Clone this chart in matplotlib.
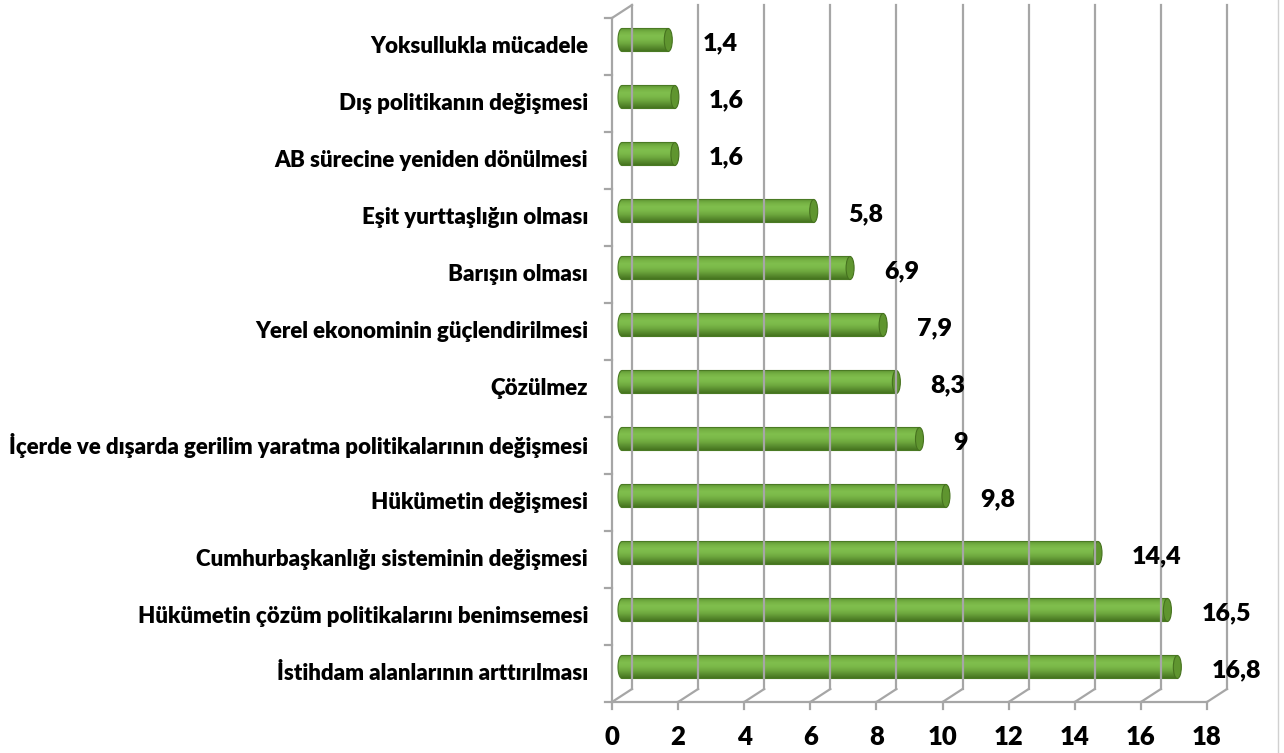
import numpy as np
import matplotlib
matplotlib.use("Agg")
import matplotlib.pyplot as plt
from matplotlib import transforms
from matplotlib.path import Path
from matplotlib.patches import PathPatch, Ellipse
from matplotlib.colors import LinearSegmentedColormap

# veriler (alttan üste)
categories = [
    "İstihdam alanlarının arttırılması",
    "Hükümetin çözüm politikalarını benimsemesi",
    "Cumhurbaşkanlığı sisteminin değişmesi",
    "Hükümetin değişmesi",
    "İçerde ve dışarda gerilim yaratma politikalarının değişmesi",
    "Çözülmez",
    "Yerel ekonominin güçlendirilmesi",
    "Barışın olması",
    "Eşit yurttaşlığın olması",
    "AB sürecine yeniden dönülmesi",
    "Dış politikanın değişmesi",
    "Yoksullukla mücadele",
]
values = [16.8, 16.5, 14.4, 9.8, 9.0, 8.3, 7.9, 6.9, 5.8, 1.6, 1.6, 1.4]
value_labels = ["16,8", "16,5", "14,4", "9,8", "9", "8,3", "7,9", "6,9", "5,8", "1,6", "1,6", "1,4"]
xticks = list(range(0, 19, 2))

W, H = 1284, 753
fig = plt.figure(figsize=(W / 100, H / 100), dpi=100)
ax = fig.add_axes([612 / W, 1 - 702 / H, (1207 - 612) / W, (702 - 18) / H])
ax.set_xlim(0, 18)
ax.set_ylim(-0.5, 11.5)
ax.axis("off")

grid_c = "#a6a6a6"
lw = 1.6
back = transforms.offset_copy(ax.transData, fig, x=20, y=13, units="dots")
mid = transforms.offset_copy(ax.transData, fig, x=10, y=6.5, units="dots")

# 3B çerçeve: arka duvar, zemin, sol duvar
for x in xticks:
    ax.plot([x, x], [-0.5, 11.5], color=grid_c, lw=lw, transform=back, clip_on=False)
    ax.plot([x, x + 20 / 33.05], [-0.5, -0.5 + 13 / 57], color=grid_c, lw=lw, clip_on=False)
    ax.plot([x, x], [-0.5, -0.5 - 7 / 57], color=grid_c, lw=lw, clip_on=False)
ax.plot([0, 18], [-0.5, -0.5], color=grid_c, lw=lw, clip_on=False)
ax.plot([0, 0], [-0.5, 11.5], color=grid_c, lw=lw, clip_on=False)
ax.plot([0, 20 / 33.05], [11.5, 11.5 + 13 / 57], color=grid_c, lw=lw, clip_on=False)
for k in range(13):
    ax.plot([0, -7 / 33.05], [k - 0.5, k - 0.5], color=grid_c, lw=lw, clip_on=False)

# silindir çubuklar (üstten alta renk geçişi)
cmap = LinearSegmentedColormap.from_list(
    "cyl", ["#5f9634", "#76b244", "#80bf4d", "#7bb949", "#6ea83e", "#5a8e30", "#46741f"])
grad = cmap(np.linspace(0, 1, 64))[:, None, :]
bh = 23 / 57
cw = 8 / 33.05
t = np.linspace(np.pi / 2, 3 * np.pi / 2, 30)
for i, v in enumerate(values):
    y0, y1 = i - bh / 2, i + bh / 2
    verts = [(0, y1), (v, y1), (v, y0), (0, y0)]
    verts += [(cw / 2 * np.cos(a), i - bh / 2 * np.sin(a)) for a in t]
    verts.append((0, y1))
    p = PathPatch(Path(verts), facecolor="none", edgecolor="#4a7a24", lw=0.8, transform=mid)
    ax.add_patch(p)
    im = ax.imshow(grad, extent=[-cw, v, y0, y1], aspect="auto", transform=mid,
                   interpolation="bilinear", clip_on=True)
    im.set_clip_path(p)
    ax.add_patch(Ellipse((v, i), cw, bh, facecolor="#5f952f", edgecolor="#46721f",
                         lw=0.8, transform=mid))
    tr = transforms.offset_copy(ax.transData, fig, x=10 + 34, y=3, units="dots")
    ax.text(v, i, value_labels[i], transform=tr, ha="left", va="center",
            fontsize=18, fontweight="heavy", family="Lato")

ax.set_xlim(0, 18)

# etiketler
for i, c in enumerate(categories):
    ax.text(-24 / 33.05, i, c, ha="right", va="center", fontsize=16,
            fontweight="heavy", family="Lato", clip_on=False)
for x in xticks:
    ax.text(x, -0.5 - 35 / 57, str(x), ha="center", va="center", fontsize=18.5,
            fontweight="heavy", family="Lato", clip_on=False)

fig.add_artist(plt.Line2D([1278 / W, 1278 / W], [0, 1], color="#d0d0d0", lw=1))

fig.savefig("out.png", dpi=100)
